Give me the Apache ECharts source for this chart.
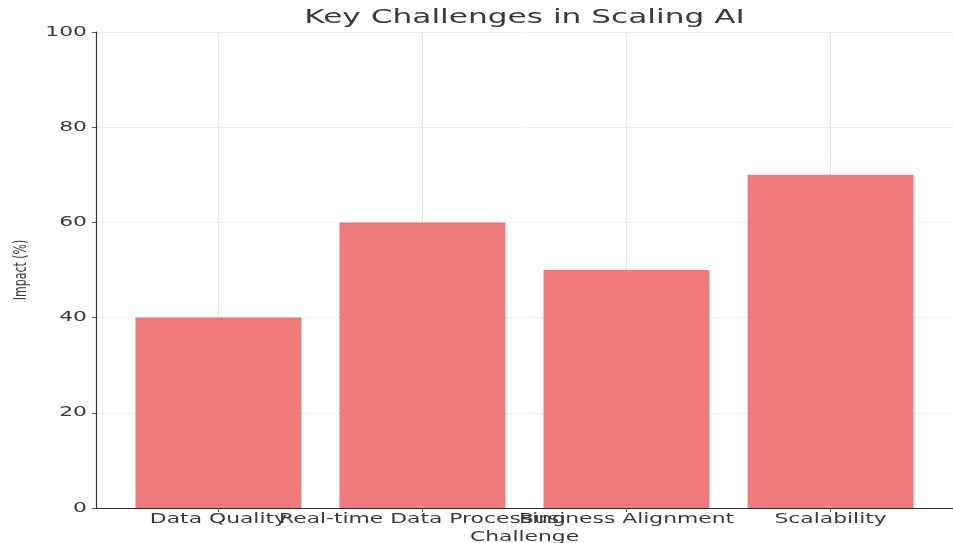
<!DOCTYPE html>
<html>
<head>
<meta charset="utf-8">
<script src="https://cdn.jsdelivr.net/npm/echarts@6/dist/echarts.min.js"></script>
<style>
  html, body { margin: 0; padding: 0; background: #fff; }
  #chart { width: 953px; height: 543px; }
</style>
</head>
<body>
<div id="chart"></div>
<script>
// data
const challenges = ['Data Quality', 'Real-time Data Processing', 'Business Alignment', 'Scalability'];
const impact = [40, 60, 50, 70];
const yTicks = [0, 20, 40, 60, 80, 100];

const titleText = 'Key Challenges in Scaling AI';
const xName = 'Challenge';
const yName = 'Impact (%)';

// the reference picture is stretched sideways, so text gets the same stretch
const stretch = 1.56;
const textColor = '#3a3a3a';
const font = 'DejaVu Sans';

const positions = challenges.map((c, i) => i);
const barData = impact.map((v, i) => [i, v]);

let mychart = echarts.init(document.getElementById('chart'));

let option = {
  animation: false,
  grid: {
    left: 96,
    top: 32,
    bottom: 35,
    width: 874,
    containLabel: false
  },
  xAxis: {
    type: 'value',
    min: -0.6,
    max: 3.6,
    axisLine: { show: true, onZero: false, lineStyle: { color: '#333', width: 1.2 } },
    axisTick: { show: true, customValues: positions, length: 4, lineStyle: { color: '#555' } },
    axisLabel: { show: false, customValues: positions },
    splitLine: { show: true, lineStyle: { color: '#e6e6e6', width: 1 } }
  },
  yAxis: {
    type: 'value',
    min: 0,
    max: 100,
    interval: 20,
    axisLine: { show: true, onZero: false, lineStyle: { color: '#333', width: 1.2 } },
    axisTick: { show: true, length: 4, lineStyle: { color: '#555' } },
    axisLabel: { show: false },
    splitLine: { show: true, lineStyle: { color: '#ececec', width: 1 } }
  },
  series: [
    {
      type: 'bar',
      data: barData,
      barWidth: 166,
      z: 1,
      itemStyle: { color: '#EE7B7B' }
    }
  ]
};
mychart.setOption(option);

// texts placed from the axes' own scales
function txt(x, y, text, size, align, vAlign) {
  return {
    type: 'text',
    x: x,
    y: y,
    scaleX: stretch,
    silent: true,
    style: {
      text: text,
      fontFamily: font,
      fontSize: size,
      fill: textColor,
      align: align,
      verticalAlign: vAlign
    }
  };
}

let graphics = [];
let origin = mychart.convertToPixel({ gridIndex: 0 }, [-0.6, 0]);
let topRight = mychart.convertToPixel({ gridIndex: 0 }, [3.6, 100]);
let midX = (origin[0] + topRight[0]) / 2;
let midY = (origin[1] + topRight[1]) / 2;

graphics.push(txt(midX, topRight[1] - 14, titleText, 20, 'center', 'middle'));

challenges.forEach((c, i) => {
  let p = mychart.convertToPixel({ gridIndex: 0 }, [i, 0]);
  graphics.push(txt(p[0], p[1] + 11, c, 14, 'center', 'middle'));
});
graphics.push(txt(midX, origin[1] + 29, xName, 14, 'center', 'middle'));

yTicks.forEach(v => {
  let p = mychart.convertToPixel({ gridIndex: 0 }, [-0.6, v]);
  graphics.push(txt(p[0] - 9, p[1], String(v), 14, 'right', 'middle'));
});

graphics.push({
  type: 'text',
  x: 22,
  y: midY,
  rotation: Math.PI / 2,
  scaleY: stretch,
  silent: true,
  style: {
    text: yName,
    fontFamily: font,
    fontSize: 11,
    fill: textColor,
    align: 'center',
    verticalAlign: 'middle'
  }
});

mychart.setOption({ graphic: graphics });
</script>
</body>
</html>
